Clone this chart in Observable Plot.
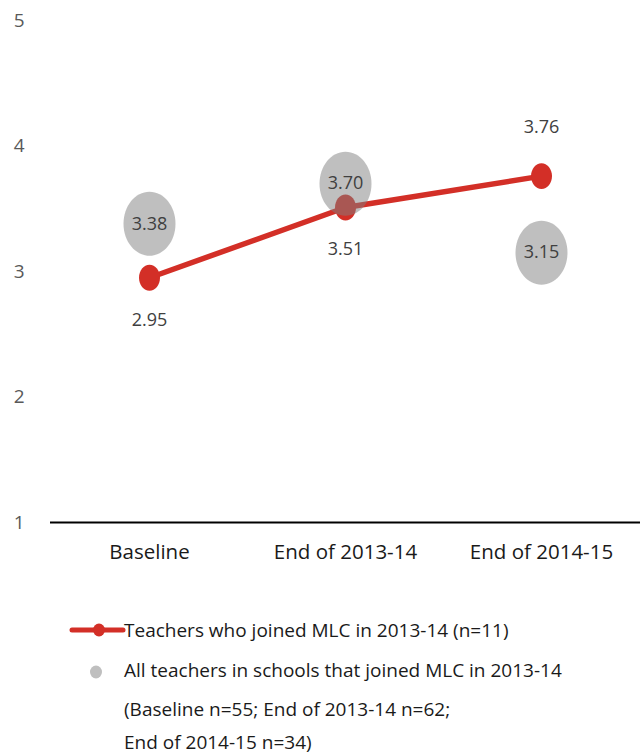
<!DOCTYPE html>
<html>
<head>
<meta charset="utf-8">
<script src="https://cdn.jsdelivr.net/npm/d3@7"></script>
<script src="https://cdn.jsdelivr.net/npm/@observablehq/plot@0.6"></script>
<style>
  html, body { margin: 0; padding: 0; background: #fff; }
  body { width: 641px; height: 754px; overflow: hidden; }
  svg { display: block; }
</style>
</head>
<body>
<div id="chart"></div>
<div id="legend"></div>
<script>
// ---- data ----
const categories = ["Baseline", "End of 2013-14", "End of 2014-15"];
const joinedValues = [2.95, 3.51, 3.76];          // Teachers who joined MLC in 2013-14 (n=11)
const allTeacherValues = [3.38, 3.70, 3.15];      // All teachers in schools that joined MLC in 2013-14
const joinedLabelSide = ["below", "below", "above"];
const yTicks = [1, 2, 3, 4, 5];
const seriesNames = ["Teachers who joined MLC in 2013-14 (n=11)", "All teachers in schools that joined MLC in 2013-14"];
const noteLines = ["(Baseline n=55; End of 2013-14 n=62;", "End of 2014-15 n=34)"];

const joined = categories.map((c, i) => ({cat: c, v: joinedValues[i], side: joinedLabelSide[i]}));
const allT = categories.map((c, i) => ({cat: c, v: allTeacherValues[i]}));
const below = joined.filter(d => d.side === "below");
const above = joined.filter(d => d.side === "above");

// ellipse symbol (vertically stretched circle, as in the reference)
const STRETCH = 1.23;
const ellipse = {
  draw(ctx, size) {
    const rx = Math.sqrt(size / Math.PI), ry = rx * STRETCH, k = 0.5523;
    ctx.moveTo(rx, 0);
    ctx.bezierCurveTo(rx, k * ry, k * rx, ry, 0, ry);
    ctx.bezierCurveTo(-k * rx, ry, -rx, k * ry, -rx, 0);
    ctx.bezierCurveTo(-rx, -k * ry, -k * rx, -ry, 0, -ry);
    ctx.bezierCurveTo(k * rx, -ry, rx, -k * ry, rx, 0);
    ctx.closePath();
  }
};

const RED = "#d32f27";
const font = "'Open Sans', Lato, sans-serif";

const chart = Plot.plot({
  width: 641,
  height: 572,
  marginTop: 20,
  marginBottom: 50,
  marginLeft: 50,
  marginRight: 1,
  style: {fontFamily: font, fontSize: "19px", background: "#fff"},
  x: {type: "point", domain: categories, padding: 0.5, label: null},
  y: {domain: [1, 5], ticks: yTicks, label: null},
  marks: [
    Plot.axisY({ticks: yTicks, tickSize: 0, tickPadding: 26, tickFormat: d => d, fill: "#595959", fontSize: 19, label: null}),
    Plot.axisX({tickSize: 0, tickPadding: 22, fill: "#1a1a1a", fontSize: 20.5, label: null}),
    Plot.ruleY([1], {stroke: "#000", strokeWidth: 2}),
    Plot.line(joined, {x: "cat", y: "v", stroke: RED, strokeWidth: 5.5}),
    Plot.dot(joined, {x: "cat", y: "v", r: 10.5, symbol: ellipse, fill: RED, stroke: "none"}),
    Plot.dot(allT, {x: "cat", y: "v", r: 26, symbol: ellipse, fill: "#808080", fillOpacity: 0.5, stroke: "none"}),
    Plot.text(allT, {x: "cat", y: "v", text: d => d.v.toFixed(2), fill: "#404040", fontSize: 18}),
    Plot.text(below, {x: "cat", y: "v", text: d => d.v.toFixed(2), fill: "#404040", fontSize: 18, dy: 42}),
    Plot.text(above, {x: "cat", y: "v", text: d => d.v.toFixed(2), fill: "#404040", fontSize: 18, dy: -49}),
  ]
});
document.getElementById("chart").append(chart);

// ---- legend (below the plot SVG) ----
const LH = 754 - 572;
const svg = d3.select("#legend").append("svg")
  .attr("width", 641).attr("height", LH)
  .style("font-family", font).style("font-size", "19px");
const oy = 572; // legend top in page coords
const g = svg.append("g").attr("transform", `translate(0,${-oy})`);
// series 1 swatch
g.append("line").attr("x1", 72).attr("x2", 123).attr("y1", 630).attr("y2", 630)
  .attr("stroke", RED).attr("stroke-width", 5).attr("stroke-linecap", "round");
g.append("ellipse").attr("cx", 99).attr("cy", 630).attr("rx", 6).attr("ry", 6.5).attr("fill", RED);
g.append("text").attr("x", 124).attr("y", 637).attr("fill", "#1a1a1a").text(seriesNames[0]);
// series 2 swatch
g.append("ellipse").attr("cx", 96).attr("cy", 672).attr("rx", 6).attr("ry", 6.5).attr("fill", "#bfbfbf");
g.append("text").attr("x", 124).attr("y", 677).attr("fill", "#1a1a1a").text(seriesNames[1]);
g.append("text").attr("x", 124).attr("y", 716).attr("fill", "#1a1a1a").text(noteLines[0]);
g.append("text").attr("x", 124).attr("y", 749).attr("fill", "#1a1a1a").text(noteLines[1]);
</script>
</body>
</html>
